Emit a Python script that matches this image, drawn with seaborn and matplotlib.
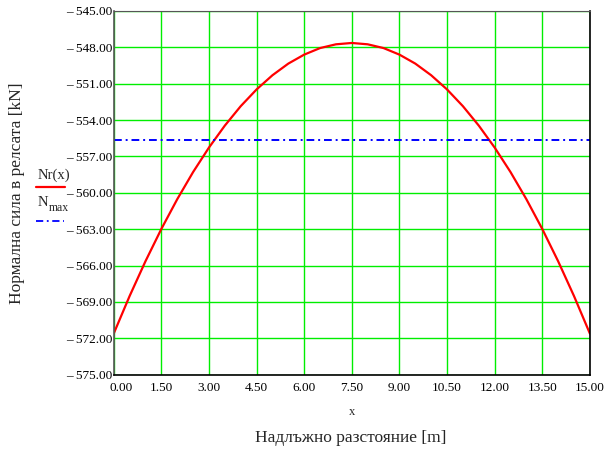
import numpy as np
import pandas as pd
import matplotlib
matplotlib.use("Agg")
import matplotlib.pyplot as plt
from matplotlib.lines import Line2D
import matplotlib.transforms as mtransforms
import seaborn as sns

# Значения
x_pos = [0.0, 0.5, 1.0, 1.5, 2.0, 2.5, 3.0, 3.5, 4.0, 4.5, 5.0, 5.5, 6.0,
         6.5, 7.0, 7.5, 8.0, 8.5, 9.0, 9.5, 10.0, 10.5, 11.0, 11.5, 12.0,
         12.5, 13.0, 13.5, 14.0, 14.5, 15.0]
nr_values = [-571.60, -568.51, -565.64, -562.98, -560.53, -558.29, -556.27,
             -554.46, -552.86, -551.48, -550.31, -549.35, -548.61, -548.07,
             -547.76, -547.65, -547.76, -548.07, -548.61, -549.35, -550.31,
             -551.48, -552.86, -554.46, -556.27, -558.29, -560.53, -562.98,
             -565.64, -568.51, -571.60]
n_max = -555.65

x_ticks = [0.0, 1.5, 3.0, 4.5, 6.0, 7.5, 9.0, 10.5, 12.0, 13.5, 15.0]
y_ticks = [-575.0, -572.0, -569.0, -566.0, -563.0, -560.0, -557.0,
           -554.0, -551.0, -548.0, -545.0]

df = pd.DataFrame({"x": x_pos, "Nr": nr_values})
df_max = pd.DataFrame({"x": [x_pos[0], x_pos[-1]], "N": [n_max, n_max]})

sns.set_style("white")
plt.rcParams["font.family"] = ["Liberation Serif", "DejaVu Serif"]
plt.rcParams["font.size"] = 9.5

fig = plt.figure(figsize=(6.05, 4.51), dpi=100)
ax = fig.add_axes([0.188, 0.169, 0.787, 0.807])

sns.lineplot(data=df, x="x", y="Nr", ax=ax, color="#ff0000", linewidth=1.6)
sns.lineplot(data=df_max, x="x", y="N", ax=ax, color="#0000ff", linewidth=1.4,
             linestyle=(0, (4, 2, 1, 2)))

ax.set_xlim(0, 15)
ax.set_ylim(-575, -545)
ax.set_xticks(x_ticks)
ax.set_yticks(y_ticks)
ax.set_xticklabels([f"{v:.2f}" for v in x_ticks])
ax.set_yticklabels([f"\u2013 {abs(v):.2f}" for v in y_ticks])
ax.tick_params(length=0, labelsize=9.5, colors="#000000")
ax.tick_params(axis="x", pad=5)
ax.tick_params(axis="y", pad=1)

# первая метка по x сдвинута вправо, как в оригинале
first = ax.get_xticklabels()[0]
first.set_horizontalalignment("left")
first.set_transform(first.get_transform() +
                    mtransforms.ScaledTranslation(-4 / 100, 0, fig.dpi_scale_trans))

ax.grid(True, color="#00ee00", linewidth=1.0)
ax.set_axisbelow(True)
for name, sp in ax.spines.items():
    sp.set_visible(True)
    sp.set_linewidth(1.2)
    sp.set_color("#000000")
ax.spines["left"].set_color("#555555")
ax.spines["top"].set_color("#555555")
ax.spines["top"].set_linewidth(0.8)

ax.set_xlabel("x", fontsize=9, labelpad=9)
ax.set_ylabel("")
fig.text(0.028, 0.572, "Нормална сила в релсата [kN]", rotation=90,
         ha="center", va="center", fontsize=12.5)
fig.text(0.579, 0.028, "Надлъжно разстояние [m]", ha="center", va="center",
         fontsize=12.5)

# Легенда в стиле Mathcad: подпись над образцом линии
fig.text(0.062, 0.612, "Nr(x)", fontsize=10.5, ha="left", va="center")
fig.add_artist(Line2D([0.060, 0.108], [0.585, 0.585], color="#ff0000",
                      linewidth=1.6, transform=fig.transFigure))
fig.text(0.062, 0.552, "N", fontsize=10.5, ha="left", va="center")
fig.text(0.080, 0.538, "max", fontsize=8.5, ha="left", va="center")
fig.add_artist(Line2D([0.060, 0.105], [0.510, 0.510], color="#0000ff",
                      linewidth=1.3, linestyle=(0, (4, 2, 1, 2)),
                      transform=fig.transFigure))

fig.savefig("out.png", dpi=100)
